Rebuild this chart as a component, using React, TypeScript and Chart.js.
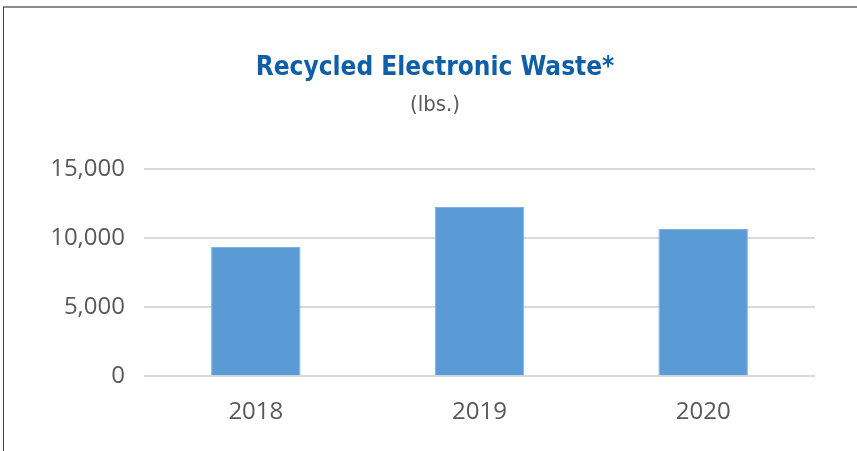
import React, { useEffect, useRef } from "react";
import { Chart, registerables } from "chart.js";

Chart.register(...registerables);

const categories = ["2018", "2019", "2020"];
const wasteValues = [9350, 12250, 10650];
const yTicks = [0, 5000, 10000, 15000];
const titleText = "Recycled Electronic Waste*";
const subtitleText = "(lbs.)";

export default function App() {
  const canvasRef = useRef<HTMLCanvasElement | null>(null);

  useEffect(() => {
    document.body.style.margin = "0";
    const ctx = canvasRef.current;
    if (!ctx) return;
    const chart = new Chart(ctx, {
      type: "bar",
      data: {
        labels: categories,
        datasets: [
          {
            label: "Recycled Electronic Waste",
            data: wasteValues,
            backgroundColor: "#5b9bd5",
            borderColor: "#7fb2e0",
            borderWidth: 1,
            categoryPercentage: 1,
            barPercentage: 0.4,
          },
        ],
      },
      options: {
        animation: false,
        responsive: false,
        maintainAspectRatio: false,
        layout: { padding: { top: 46, left: 40, right: 31, bottom: 2 } },
        plugins: {
          legend: { display: false },
          tooltip: { enabled: false },
          title: {
            display: true,
            text: titleText,
            color: "#0f5fa6",
            font: { family: "'DejaVu Sans Condensed', 'Liberation Sans Narrow', sans-serif", size: 26, weight: "bold", lineHeight: 1.0 },
            padding: { top: 1, bottom: 13 },
          },
          subtitle: {
            display: true,
            text: subtitleText,
            color: "#595959",
            font: { family: "'DejaVu Sans Condensed', 'Liberation Sans Narrow', sans-serif", size: 22, lineHeight: 1.0 },
            padding: { top: 0, bottom: 53 },
          },
        },
        scales: {
          x: {
            grid: { display: false, drawTicks: false },
            border: { display: false },
            ticks: {
              color: "#595959",
              font: { family: "'Open Sans', sans-serif", size: 24 },
              padding: 22,
            },
          },
          y: {
            min: 0,
            max: 15000,
            afterBuildTicks: (scale: any) => {
              scale.ticks = yTicks.map((v) => ({ value: v }));
            },
            afterFit: (scale: any) => {
              scale.width = 100;
            },
            grid: { color: "#d9d9d9", lineWidth: 2, drawTicks: false },
            border: { display: false },
            ticks: {
              color: "#595959",
              font: { family: "'Open Sans', sans-serif", size: 24 },
              padding: 19,
              callback: (v: any) => Number(v).toLocaleString("en-US"),
            },
          },
          spacer: {
            type: "linear",
            position: "right",
            display: true,
            afterFit: (scale: any) => {
              scale.width = 11;
            },
            grid: { display: false, drawTicks: false },
            border: { display: false },
            ticks: { display: false },
          },
        },
      },
    });
    return () => chart.destroy();
  }, []);

  return (
    <div
      style={{
        position: "absolute",
        left: 3,
        top: 6,
        width: 853,
        height: 443,
        borderTop: "2px solid #8c8c8c",
        borderLeft: "1px solid #404040",
        background: "#fff",
      }}
    >
      <canvas ref={canvasRef} width={853} height={443} style={{ display: "block" }} />
    </div>
  );
}
